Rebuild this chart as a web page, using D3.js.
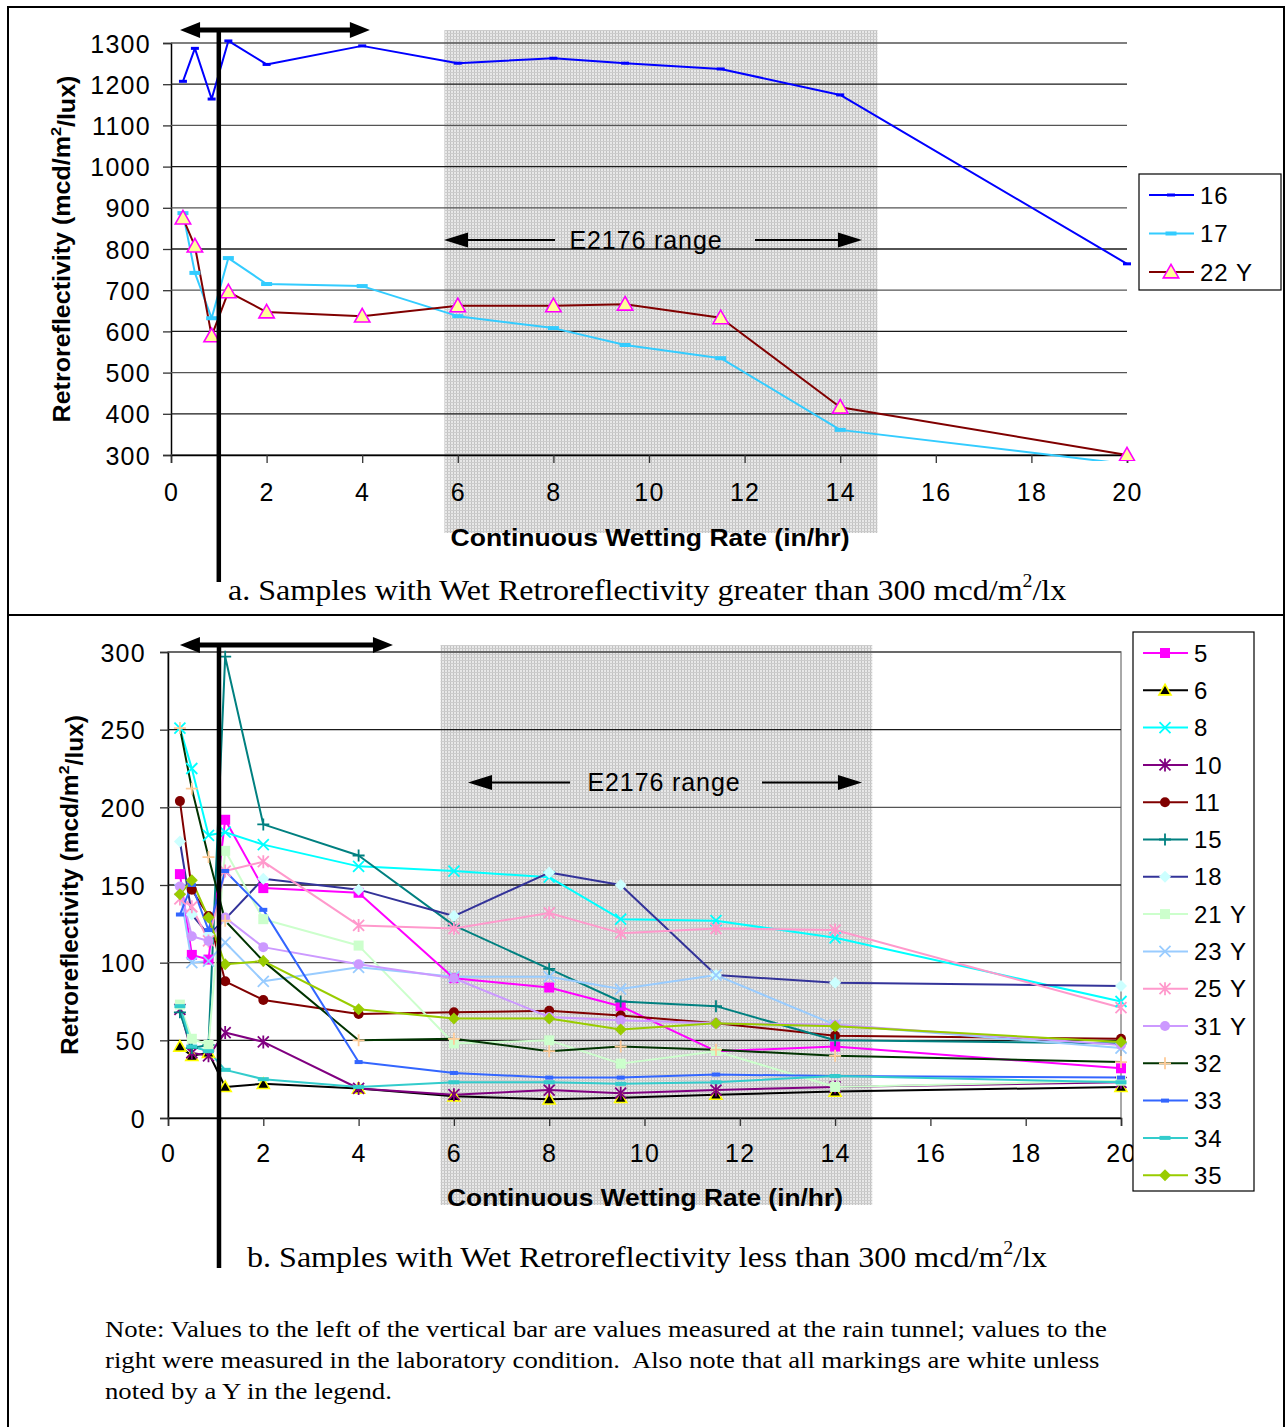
<!DOCTYPE html>
<html><head><meta charset="utf-8">
<script src="https://cdn.jsdelivr.net/npm/d3@7"></script>
<style>body{margin:0;background:#fff}svg{display:block}text{white-space:pre}</style>
</head><body>
<svg id="c" width="1285" height="1427"></svg>
<script>
// ---------------- DATA ----------------
const xRates = [0.25, 0.5, 0.85, 1.2, 2, 4, 6, 8, 9.5, 11.5, 14, 20];
const xTicks = [0, 2, 4, 6, 8, 10, 12, 14, 16, 18, 20];
const topYTicks = [300, 400, 500, 600, 700, 800, 900, 1000, 1100, 1200, 1300];
const bottomYTicks = [0, 50, 100, 150, 200, 250, 300];

const topNames = ["16", "17", "22 Y"];
const s16  = [1207, 1287, 1164, 1305, 1248, 1293, 1251, 1263, 1251, 1237, 1174, 764];
const s17  = [887, 742, 632, 778, 715, 710, 637, 608, 567, 535, 361, 278];
const s22Y = [875, 807, 589, 696, 647, 637, 662, 662, 666, 633, 416, 300];

const bottomNames = ["5", "6", "8", "10", "11", "15", "18", "21 Y", "23 Y", "25 Y", "31 Y", "32", "33", "34", "35"];
const s5   = [157, 105, 102, 192, 148, 145, 90, 84, 72, 43, 46, 32];
const s6   = [46, 40, 42, 20, 22, 19, 14, 12, 13, 15, 17, 20];
const s8   = [251, 225, 182, 184, 176, 162, 159, 155, 128, 127, 116, 75];
const s10  = [70, 42, 40, 55, 49, 19, 15, 18, 16, 18, 20, 23];
const s11  = [204, 147, 130, 88, 76, 67, 68, 69, 66, 61, 53, 51];
const s15  = [68, 45, 47, 297, 189, 169, 124, 96, 75, 72, 50, 48];
const s18  = [178, 131, 118, 128, 154, 147, 130, 158, 150, 92, 87, 85];
const s21Y = [73, 51, 47, 172, 128, 111, 48, 50, 35, 43, 20, 24];
const s23Y = [147, 100, 101, 113, 88, 97, 91, 91, 83, 92, 60, 45];
const s25Y = [141, 136, 114, 159, 165, 124, 122, 132, 119, 122, 121, 71];
const s31Y = [149, 117, 114, 129, 110, 99, 90, 65, 63, 61, 60, 47];
const s32  = [251, 212, 168, 127, 101, 50, 51, 43, 46, 44, 40, 36];
const s33  = [131, 150, 121, 159, 134, 36, 29, 26, 26, 28, 27, 26];
const s34  = [72, 46, 43, 31, 25, 20, 23, 23, 22, 23, 27, 23];
const s35  = [144, 153, 129, 99, 101, 70, 64, 64, 57, 61, 59, 49];

// annotation values (data units)
const e2176Range = [5.72, 14.78];
const tunnelDivider = [1.0, 1.07];
const tunnelArrow = [[0.19, 4.16], [0.25, 4.72]];
const e2176LabelY = [822, 216];

// ---------------- STYLES ----------------
const topStyles = [
  {line: "#0000FF", shape: "dash", w: 8, h: 3, fill: "#0000FF"},
  {line: "#33CCFF", shape: "dash", w: 11, h: 4, fill: "#33CCFF"},
  {line: "#800000", shape: "triangle", size: 14, fill: "#FFFF99", stroke: "#FF00FF"}
];
const bottomStyles = [
  {line: "#FF00FF", shape: "square", size: 10, fill: "#FF00FF"},
  {line: "#000000", shape: "triangle", size: 11, fill: "#000000", stroke: "#FFFF00"},
  {line: "#00FFFF", shape: "x", size: 11, stroke: "#00FFFF"},
  {line: "#800080", shape: "asterisk", size: 11, stroke: "#800080"},
  {line: "#800000", shape: "circle", size: 10, fill: "#800000"},
  {line: "#008080", shape: "plus", size: 12, stroke: "#008080"},
  {line: "#333399", shape: "diamond", size: 12, fill: "#CCFFFF"},
  {line: "#CCFFCC", shape: "square", size: 10, fill: "#CCFFCC"},
  {line: "#99CCFF", shape: "x", size: 11, stroke: "#99CCFF"},
  {line: "#FF99CC", shape: "asterisk", size: 11, stroke: "#FF99CC"},
  {line: "#CC99FF", shape: "circle", size: 10, fill: "#CC99FF"},
  {line: "#003300", shape: "plus", size: 12, stroke: "#FFCC99"},
  {line: "#3366FF", shape: "dash", w: 8, h: 4, fill: "#3366FF"},
  {line: "#33CCCC", shape: "dash", w: 11, h: 4, fill: "#33CCCC"},
  {line: "#99CC00", shape: "diamond", size: 12, fill: "#99CC00"}
];

const topSeries = [s16, s17, s22Y];
const bottomSeries = [s5, s6, s8, s10, s11, s15, s18, s21Y, s23Y, s25Y, s31Y, s32, s33, s34, s35];

const SANS = "'Liberation Sans', Arial, sans-serif";
const SERIF = "'Liberation Serif', 'Times New Roman', serif";

const svg = d3.select("#c");
const defs = svg.append("defs");
const pat = defs.append("pattern").attr("id", "hatch").attr("patternUnits", "userSpaceOnUse")
  .attr("width", 3).attr("height", 3);
pat.append("rect").attr("width", 3).attr("height", 3).attr("fill", "#e8e8e8");
pat.append("rect").attr("width", 1).attr("height", 3).attr("fill", "#c2c2c2");
pat.append("rect").attr("width", 3).attr("height", 1).attr("fill", "#cccccc");

// stretch a text element (drawn at local 0,0) horizontally to a target width
function stretch(textSel, target) {
  const w = textSel.node().getBBox().width;
  return w > 0 ? target / w : 1;
}

function drawMarker(g, m, x, y) {
  const t = g.append("g").attr("transform", `translate(${x},${y})`);
  const s = m.size;
  switch (m.shape) {
    case "dash":
      t.append("rect").attr("x", -m.w / 2).attr("y", -m.h / 2).attr("width", m.w).attr("height", m.h).attr("fill", m.fill); break;
    case "square":
      t.append("rect").attr("x", -s / 2).attr("y", -s / 2).attr("width", s).attr("height", s).attr("fill", m.fill); break;
    case "triangle":
      t.append("path").attr("d", `M0,${-s * 0.55}L${s * 0.55},${s * 0.42}L${-s * 0.55},${s * 0.42}Z`)
        .attr("fill", m.fill).attr("stroke", m.stroke).attr("stroke-width", 1.6); break;
    case "circle":
      t.append("circle").attr("r", s / 2).attr("fill", m.fill); break;
    case "diamond":
      t.append("path").attr("d", `M0,${-s / 2}L${s / 2},0L0,${s / 2}L${-s / 2},0Z`).attr("fill", m.fill); break;
    case "x":
      t.append("path").attr("d", `M${-s / 2},${-s / 2}L${s / 2},${s / 2}M${-s / 2},${s / 2}L${s / 2},${-s / 2}`)
        .attr("stroke", m.stroke).attr("stroke-width", 1.8); break;
    case "asterisk":
      t.append("path").attr("d", `M${-s / 2},${-s / 2}L${s / 2},${s / 2}M${-s / 2},${s / 2}L${s / 2},${-s / 2}M0,${-s / 2 - 1}V${s / 2 + 1}`)
        .attr("stroke", m.stroke).attr("stroke-width", 1.8); break;
    case "plus":
      t.append("path").attr("d", `M${-s / 2},0H${s / 2}M0,${-s / 2}V${s / 2}`)
        .attr("stroke", m.stroke).attr("stroke-width", 1.8); break;
  }
}

function arrowHead(g, xTip, y, dir, len, half) {
  g.append("path").attr("d", `M${xTip},${y}L${xTip - dir * len},${y - half}L${xTip - dir * len},${y + half}Z`).attr("fill", "#000");
}

function drawChart(cfg) {
  const {xr, yDomain, yr, yTicks, series, styles, names, idx} = cfg;
  const x = d3.scaleLinear().domain([0, 20]).range(xr);
  const y = d3.scaleLinear().domain(yDomain).range(yr);
  const g = svg.append("g");
  const [pl, pr] = xr; const [pb, pt] = yr;

  // hatched E2176 band
  g.append("rect").attr("x", x(e2176Range[0])).attr("y", cfg.bandTop)
    .attr("width", x(e2176Range[1]) - x(e2176Range[0])).attr("height", cfg.bandBottom - cfg.bandTop)
    .attr("fill", "url(#hatch)");

  if (cfg.border) {
    g.append("rect").attr("x", pl).attr("y", pt).attr("width", pr - pl).attr("height", pb - pt)
      .attr("fill", "none").attr("stroke", "#8c8c8c").attr("stroke-width", 1.5);
  }
  const yAxis = d3.axisLeft(y).tickValues(yTicks).tickSize(8).tickFormat(d3.format("d"));
  const ya = g.append("g").attr("transform", `translate(${pl},0)`).call(yAxis);
  ya.select(".domain").attr("stroke", "#000").attr("stroke-width", 1.5);
  ya.selectAll(".tick line").attr("stroke", "#333").attr("stroke-width", 1.3);
  ya.selectAll(".tick text").attr("font-family", SANS).attr("font-size", 25).attr("fill", "#000")
    .attr("letter-spacing", 1.3).attr("x", cfg.yLabelX - pl + 1).attr("dy", "0.36em");
  g.append("g").selectAll("line").data(yTicks).join("line")
    .attr("x1", pl).attr("x2", pr).attr("y1", d => y(d)).attr("y2", d => y(d))
    .attr("stroke", (d, i) => i % 2 ? "#1a1a1a" : "#555").attr("stroke-width", 1.3);

  const xAxis = d3.axisBottom(x).tickValues(xTicks).tickSize(8).tickFormat(d3.format("d"));
  const xa = g.append("g").attr("transform", `translate(0,${pb})`).call(xAxis);
  xa.select(".domain").attr("stroke", "#000").attr("stroke-width", 1.5);
  xa.selectAll(".tick line").attr("stroke", "#333").attr("stroke-width", 1.3);
  xa.selectAll(".tick text").attr("font-family", SANS).attr("font-size", 25).attr("fill", "#000")
    .attr("letter-spacing", 1.3).attr("y", cfg.xLabelDy).attr("dy", "0.36em");

  // x title
  const xtG = g.append("g");
  const xt = xtG.append("text").attr("text-anchor", "middle")
    .attr("dy", "0.36em").attr("font-family", SANS).attr("font-weight", "bold").attr("font-size", 24)
    .text("Continuous Wetting Rate (in/hr)");
  xtG.attr("transform", `translate(${cfg.xTitle[0]},${cfg.xTitle[1]}) scale(${stretch(xt, cfg.xTitle[2])},1)`);
  // y title
  const ytG = g.append("g");
  const yt = ytG.append("text").attr("text-anchor", "middle").attr("dy", "0.36em")
    .attr("font-family", SANS).attr("font-weight", "bold").attr("font-size", 23);
  yt.append("tspan").text("Retroreflectivity (mcd/m");
  yt.append("tspan").attr("font-size", 15).attr("dy", "-0.65em").text("2");
  yt.append("tspan").attr("dy", "0.65em").text("/lux)");
  ytG.attr("transform", `translate(${cfg.yTitle[0]},${cfg.yTitle[1]}) rotate(-90) scale(${stretch(yt, cfg.yTitle[2])},1)`);

  // E2176 range label
  const ey = y(e2176LabelY[idx]);
  g.append("line").attr("x1", cfg.eArrow[0] + 20).attr("x2", cfg.eArrow[1]).attr("y1", ey).attr("y2", ey).attr("stroke", "#000").attr("stroke-width", 2);
  g.append("line").attr("x1", cfg.eArrow[2]).attr("x2", cfg.eArrow[3] - 20).attr("y1", ey).attr("y2", ey).attr("stroke", "#000").attr("stroke-width", 2);
  arrowHead(g, cfg.eArrow[0], ey, -1, 24, 7.5);
  arrowHead(g, cfg.eArrow[3], ey, 1, 24, 7.5);
  g.append("text").attr("x", cfg.eText).attr("y", ey).attr("dy", "0.36em").attr("text-anchor", "middle")
    .attr("font-family", SANS).attr("font-size", 25).attr("letter-spacing", 0.9).text("E2176 range");

  // data
  const clipId = "clip" + idx;
  defs.append("clipPath").attr("id", clipId).append("rect")
    .attr("x", pl - 20).attr("y", pt - 20).attr("width", pr - pl + 40).attr("height", pb - pt + 20 + cfg.clipBelow);
  const dg = g.append("g").attr("clip-path", `url(#${clipId})`);
  const line = d3.line().x((d, i) => x(xRates[i])).y(d => y(d));
  series.forEach((s, k) => {
    dg.append("path").attr("d", line(s)).attr("fill", "none").attr("stroke", styles[k].line)
      .attr("stroke-width", 2).attr("stroke-linejoin", "round");
  });
  series.forEach((s, k) => {
    s.forEach((v, i) => drawMarker(dg, styles[k], x(xRates[i]), y(v)));
  });

  // tunnel double arrow + divider bar
  const [a0, a1] = tunnelArrow[idx];
  const ay = cfg.arrowY;
  g.append("line").attr("x1", x(a0) + 16).attr("x2", x(a1) - 16).attr("y1", ay).attr("y2", ay).attr("stroke", "#000").attr("stroke-width", 5);
  arrowHead(g, x(a0), ay, -1, 20, 8);
  arrowHead(g, x(a1), ay, 1, 20, 8);
  const bx = x(tunnelDivider[idx]);
  g.append("line").attr("x1", bx).attr("x2", bx).attr("y1", ay - 2).attr("y2", cfg.barBottom).attr("stroke", "#000").attr("stroke-width", 4.5);

  // legend
  const L = cfg.legend;
  g.append("rect").attr("x", L.x).attr("y", L.y).attr("width", L.w).attr("height", L.h)
    .attr("fill", "#fff").attr("stroke", "#000").attr("stroke-width", 1.2);
  names.forEach((n, k) => {
    const ly = L.first + k * L.step;
    g.append("line").attr("x1", L.x + 10).attr("x2", L.x + 55).attr("y1", ly).attr("y2", ly)
      .attr("stroke", styles[k].line).attr("stroke-width", 2);
    drawMarker(g, styles[k], L.x + 32, ly);
    g.append("text").attr("x", L.x + 61).attr("y", ly).attr("dy", "0.36em")
      .attr("font-family", SANS).attr("font-size", 24).attr("letter-spacing", 1).text(n);
  });
}

// frame
svg.append("rect").attr("x", 8).attr("y", 7).attr("width", 1276).attr("height", 1430)
  .attr("fill", "none").attr("stroke", "#000").attr("stroke-width", 2);
svg.append("line").attr("x1", 8).attr("x2", 1285).attr("y1", 615).attr("y2", 615).attr("stroke", "#000").attr("stroke-width", 2);

drawChart({
  idx: 0, xr: [171, 1127], yDomain: [300, 1300], yr: [455, 43], yTicks: topYTicks,
  series: topSeries, styles: topStyles, names: topNames,
  bandTop: 30, bandBottom: 533, border: false, yLabelX: 150, xLabelDy: 37,
  xTitle: [650, 537, 399], yTitle: [62, 249, 347], eArrow: [444, 555, 755, 862], eText: 646,
  clipBelow: 6, arrowY: 30, barBottom: 582,
  legend: {x: 1139, y: 174, w: 142, h: 116, first: 195, step: 38.5}
});
drawChart({
  idx: 1, xr: [168, 1121], yDomain: [0, 300], yr: [1118, 652], yTicks: bottomYTicks,
  series: bottomSeries, styles: bottomStyles, names: bottomNames,
  bandTop: 645, bandBottom: 1205, border: true, yLabelX: 145, xLabelDy: 35,
  xTitle: [645, 1197, 396], yTitle: [70, 885, 340], eArrow: [468, 570, 762, 862], eText: 664,
  clipBelow: 6, arrowY: 645, barBottom: 1268,
  legend: {x: 1133, y: 632, w: 121, h: 559, first: 653, step: 37.3}
});

// captions
function caption(xp, yp, pre, post, size, target) {
  const cg = svg.append("g");
  const t = cg.append("text").attr("font-family", SERIF).attr("font-size", size);
  t.append("tspan").text(pre);
  t.append("tspan").attr("font-size", size * 0.62).attr("dy", "-0.7em").text("2");
  t.append("tspan").attr("dy", "0.43em").text(post);
  cg.attr("transform", `translate(${xp},${yp}) scale(${stretch(t, target)},1)`);
}
caption(228, 600, "a. Samples with Wet Retroreflectivity greater than 300 mcd/m", "/lx", 29, 839);
caption(247, 1267, "b. Samples with Wet Retroreflectivity less than 300 mcd/m", "/lx", 29, 801);

const noteLines = [
  "Note: Values to the left of the vertical bar are values measured at the rain tunnel; values to the",
  "right were measured in the laboratory condition.  Also note that all markings are white unless",
  "noted by a Y in the legend."
];
const noteWidths = [1002, 995, 287];
noteLines.forEach((d, i) => {
  const ng = svg.append("g");
  const t = ng.append("text").attr("font-family", SERIF).attr("font-size", 23).text(d);
  ng.attr("transform", `translate(105,${1337 + i * 31}) scale(${stretch(t, noteWidths[i])},1)`);
});
</script>
</body></html>
